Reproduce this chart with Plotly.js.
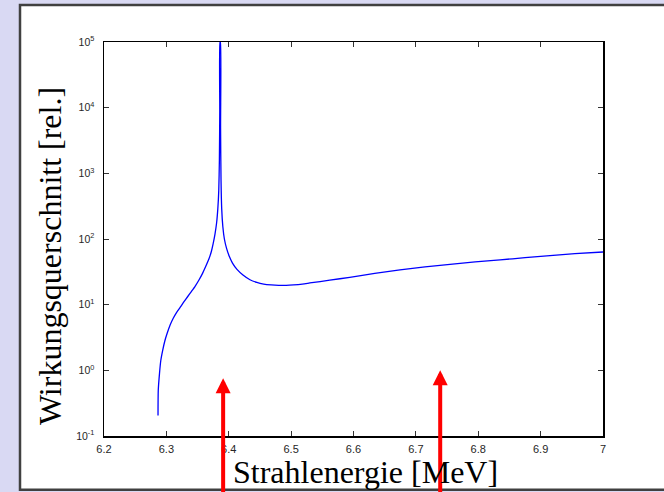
<!DOCTYPE html>
<html>
<head>
<meta charset="utf-8">
<script src="https://cdn.plot.ly/plotly-3.0.1.min.js"></script>
<style>
  html, body { margin: 0; padding: 0; background: #d9d9f3; }
  #chart { width: 664px; height: 492px; }
</style>
</head>
<body>
<div id="chart"></div>
<script>
// Beam energy [MeV]
const energy = [6.2866, 6.2870, 6.2890, 6.2910, 6.2940, 6.2975, 6.3010, 6.3060, 6.3110, 6.3160,
  6.3218, 6.3280, 6.3340, 6.3400, 6.3460, 6.3520, 6.3580, 6.3630, 6.3680, 6.3720,
  6.3750, 6.3780, 6.3805, 6.3825, 6.3840, 6.3850, 6.3856, 6.3860, 6.3866, 6.3869,
  6.3876, 6.3887, 6.3905, 6.3930, 6.3965, 6.4010, 6.4060, 6.4132, 6.4228, 6.4340,
  6.4450, 6.4560, 6.4680, 6.4800, 6.4920, 6.5040, 6.5180, 6.5300, 6.5620, 6.5940,
  6.6340, 6.6745, 6.7146, 6.7547, 6.7950, 6.8350, 6.8750, 6.9150, 6.9550, 7.0000];
// Cross section [rel.]
const crossSection = [0.205, 0.5, 0.9, 1.4, 2.0, 2.8, 3.6, 4.9, 6.2, 7.5,
  9.0, 11.0, 13.2, 15.8, 19.0, 23.5, 30, 38, 49, 64,
  85, 120, 175, 290, 550, 1600, 9000, 100000, 100000, 5000,
  800, 290, 155, 100, 72, 54, 43, 34.5, 28.3, 24.0,
  21.8, 20.6, 20.0, 19.7, 19.7, 20.0, 20.6, 21.4, 23.6, 26.1,
  29.9, 33.8, 37.5, 41.2, 44.7, 48.0, 52.0, 56.0, 59.8, 63.4];

// Tick labels
const xTickVals = [6.2, 6.3, 6.4, 6.5, 6.6, 6.7, 6.8, 6.9, 7];
const xTickText = ['6.2', '6.3', '6.4', '6.5', '6.6', '6.7', '6.8', '6.9', '7'];
const yTickVals = [0.1, 1, 10, 100, 1000, 10000, 100000];
const yTickText = ['10<sup>-1</sup>', '10<sup>0</sup>', '10<sup>1</sup>', '10<sup>2</sup>',
  '10<sup>3</sup>', '10<sup>4</sup>', '10<sup>5</sup>'];

// Axis titles
const xTitle = 'Strahlenergie [MeV]';
const yTitle = 'Wirkungsquerschnitt [rel.]';

// Marked energies (red arrows) and the value their tips point to
const arrowEnergy = [6.391, 6.739];
const arrowTipValue = [0.76, 1.0];
const arrowTailValue = 0.01;

const serif = '"Liberation Serif", "Times New Roman", Times, serif';
const sans = '"Liberation Sans", Arial, Helvetica, sans-serif';

const trace = {
  x: energy,
  y: crossSection,
  type: 'scatter',
  mode: 'lines',
  line: { color: '#0000ff', width: 1.3, shape: 'spline', smoothing: 0.6 },
  hoverinfo: 'skip'
};

const annotations = arrowEnergy.map((e, i) => ({
  x: e, y: Math.log10(arrowTipValue[i]), xref: 'x', yref: 'y',
  ax: e, ay: Math.log10(arrowTailValue), axref: 'x', ayref: 'y',
  text: '', showarrow: true,
  arrowhead: 2, arrowsize: 0.75, arrowwidth: 4, arrowcolor: '#ff0000',
  standoff: 0
}));

annotations.push({
  text: xTitle, showarrow: false,
  xref: 'paper', yref: 'paper', x: 0.525, y: -0.092,
  xanchor: 'center', yanchor: 'middle',
  font: { family: serif, size: 32, color: '#000000' }
});
annotations.push({
  text: yTitle, showarrow: false, textangle: -90,
  xref: 'paper', yref: 'paper', x: -0.108, y: 0.457,
  xanchor: 'center', yanchor: 'middle',
  font: { family: serif, size: 32, color: '#000000' }
});

const axisCommon = {
  showline: true, linecolor: '#000000', linewidth: 1.5, mirror: 'ticks',
  ticks: 'inside', ticklen: 5, tickwidth: 1, tickcolor: '#333333',
  showgrid: false, zeroline: false
};

const layout = {
  width: 664, height: 492,
  margin: { l: 104, r: 61, t: 42, b: 56 },
  paper_bgcolor: '#d9d9f3',
  plot_bgcolor: '#ffffff',
  showlegend: false,
  xaxis: Object.assign({}, axisCommon, {
    range: [6.2, 7],
    tickmode: 'array', tickvals: xTickVals, ticktext: xTickText,
    ticklabelstandoff: 2,
    tickfont: { family: sans, size: 11, color: '#262626' }
  }),
  yaxis: Object.assign({}, axisCommon, {
    type: 'log', range: [-1, 5],
    tickmode: 'array', tickvals: yTickVals, ticktext: yTickText,
    ticklabelstandoff: 6,
    tickfont: { family: sans, size: 10.5, color: '#262626' }
  }),
  shapes: [{
    type: 'rect', xref: 'paper', yref: 'paper', layer: 'below',
    x0: (20 - 104) / 499, x1: (700 - 104) / 499,
    y0: (436 - 489.7) / 394, y1: (436 - 5) / 394,
    fillcolor: '#ffffff', line: { color: '#404040', width: 2.5 }
  }],
  annotations: annotations
};

Plotly.newPlot('chart', [trace], layout, { displayModeBar: false, staticPlot: true });
</script>
</body>
</html>
